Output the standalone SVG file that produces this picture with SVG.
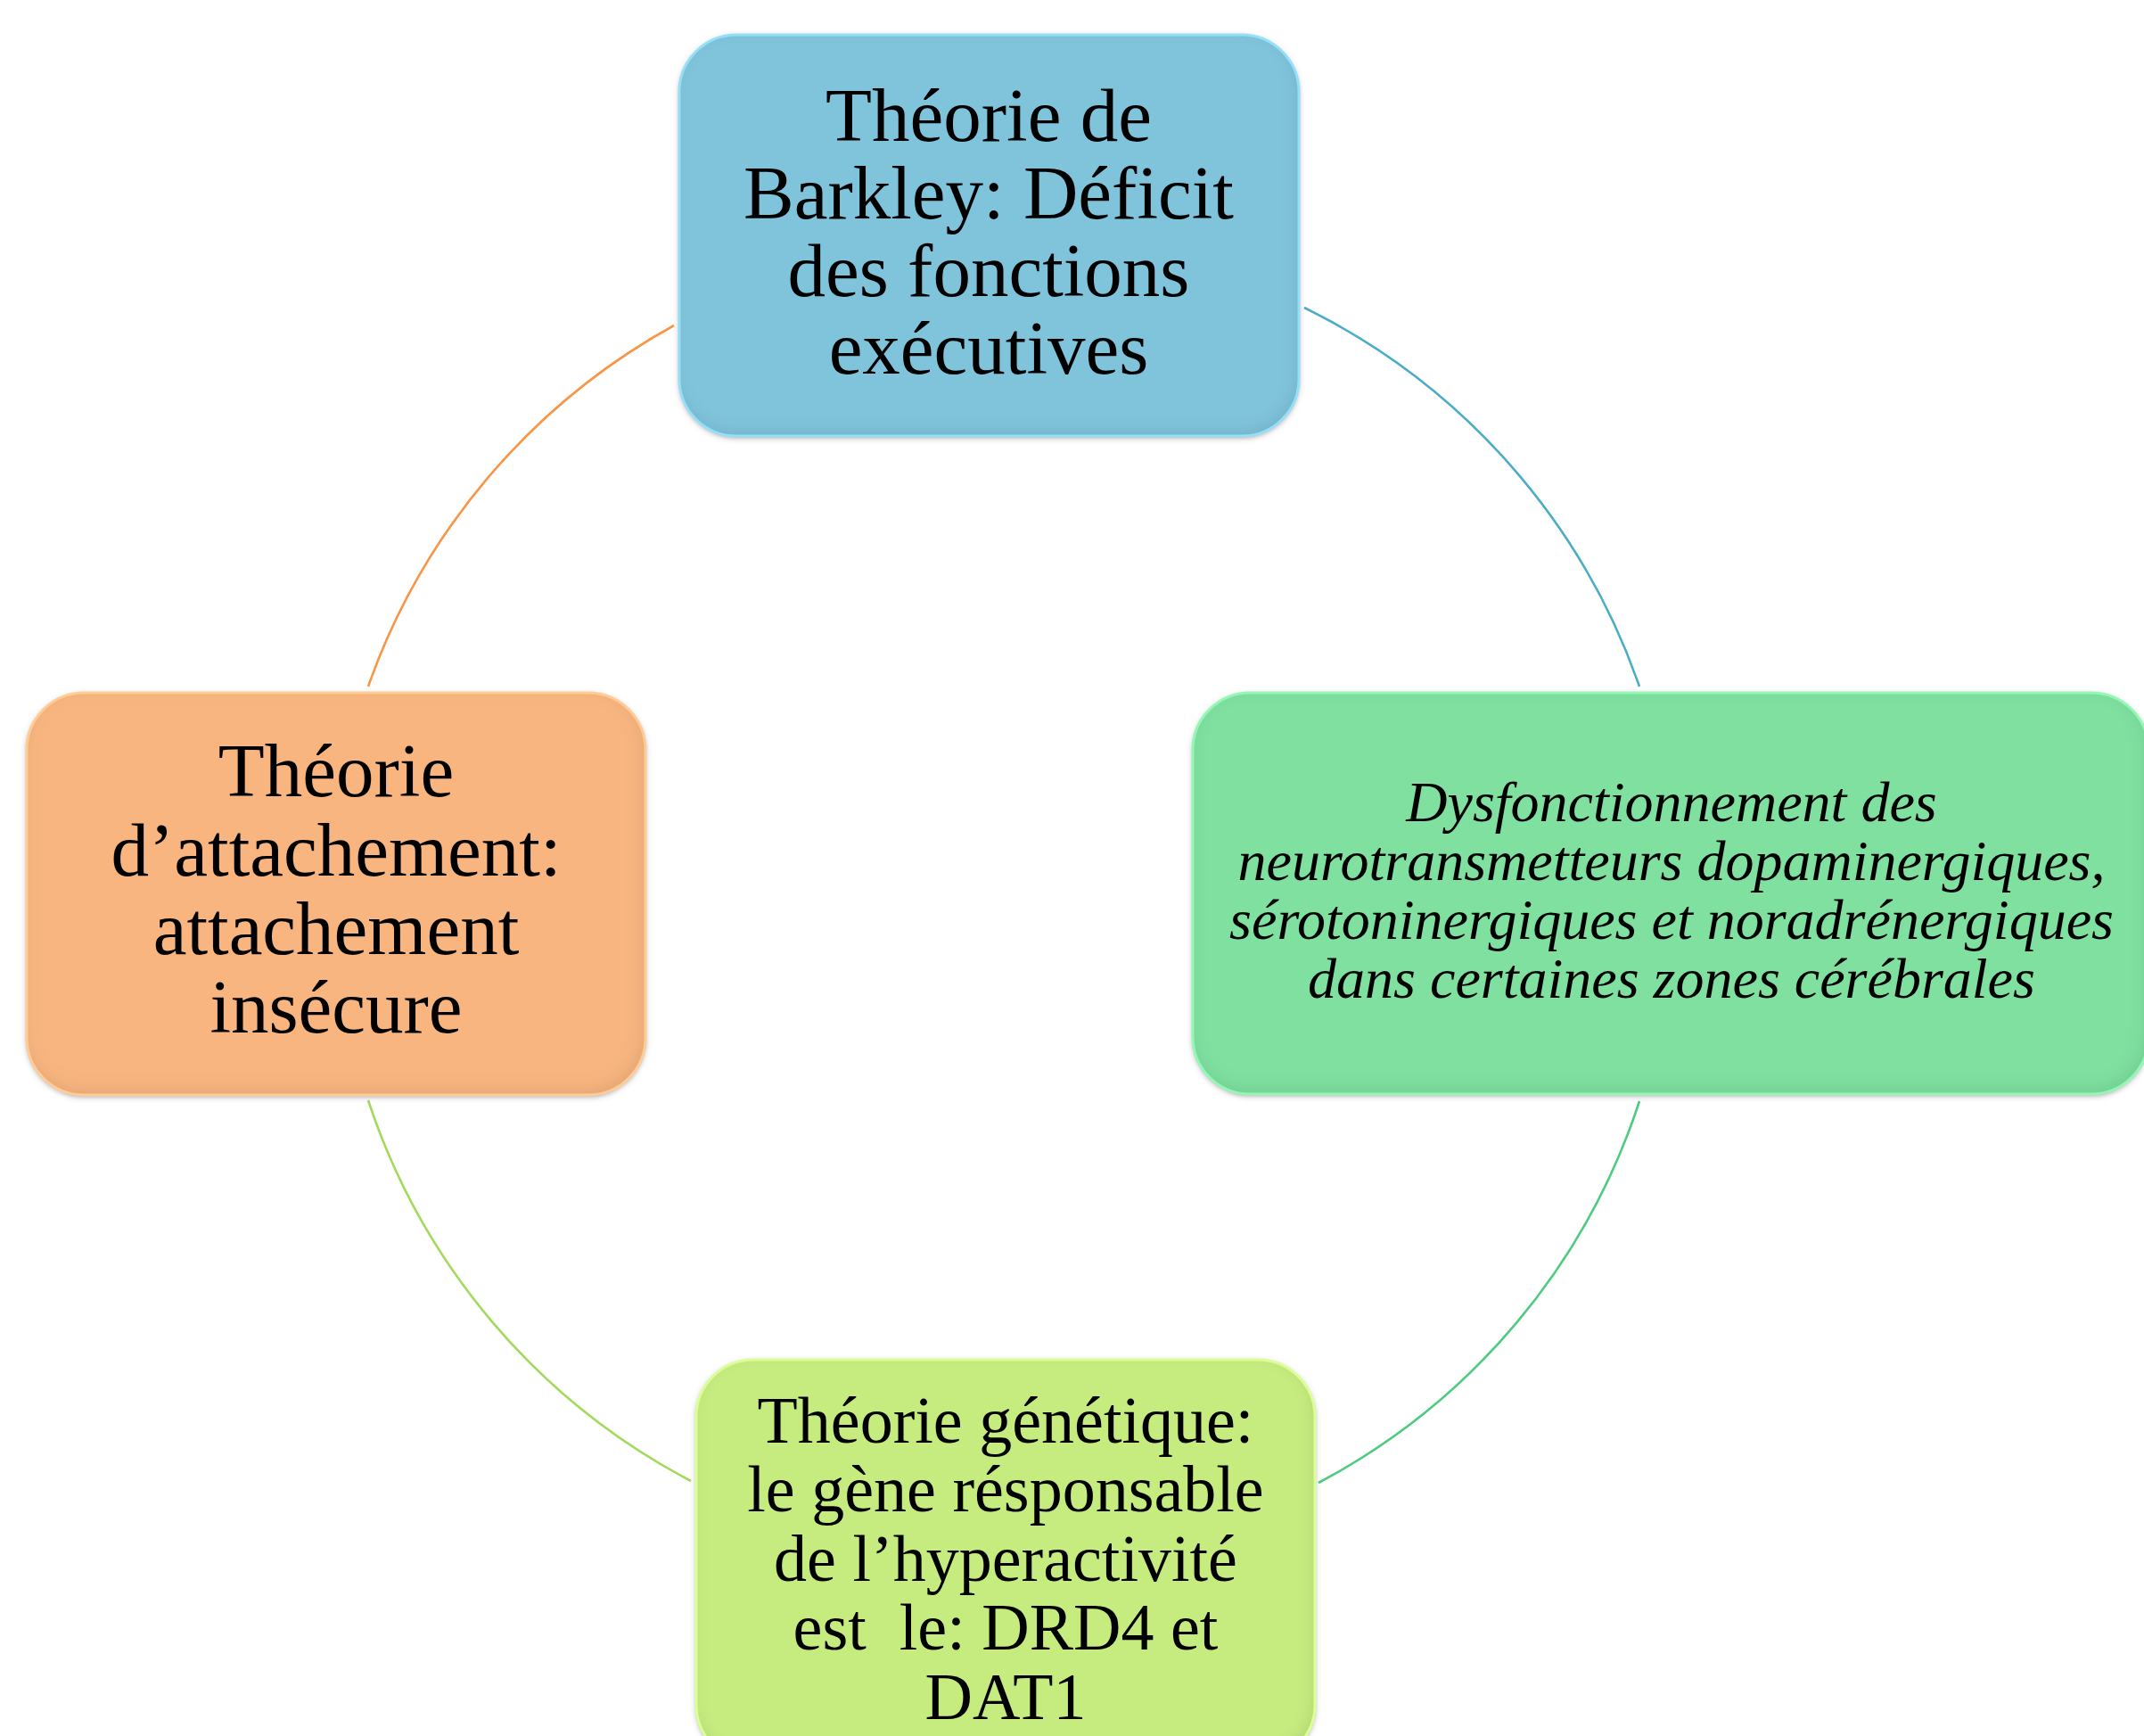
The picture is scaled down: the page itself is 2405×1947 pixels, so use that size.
<svg xmlns="http://www.w3.org/2000/svg" width="2405" height="1947" viewBox="0 0 2405 1947">
<style>
.t{font-family:"Liberation Serif","Times New Roman",serif;fill:#000;text-anchor:middle}
.big{font-size:85px}
.mid{font-size:74px}
.ital{font-size:64px;font-style:italic}
.arc{fill:none;stroke-width:2.6}
</style>
<defs>
<filter id="bev" x="-5%" y="-5%" width="110%" height="115%">
  <feGaussianBlur in="SourceAlpha" stdDeviation="9" result="blur"/>
  <feOffset in="blur" dx="-3" dy="-6" result="ob"/>
  <feComposite in="SourceAlpha" in2="ob" operator="out" result="edge"/>
  <feFlood flood-color="#000" flood-opacity="0.18"/>
  <feComposite in2="edge" operator="in" result="inner"/>
  <feGaussianBlur in="SourceAlpha" stdDeviation="3" result="sb"/>
  <feOffset in="sb" dx="0" dy="2" result="so"/>
  <feFlood flood-color="#555" flood-opacity="0.55"/>
  <feComposite in2="so" operator="in" result="shadow"/>
  <feMerge><feMergeNode in="shadow"/><feMergeNode in="SourceGraphic"/><feMergeNode in="inner"/></feMerge>
</filter>
</defs>
<rect width="2405" height="1947" fill="#fff"/>
<g id="connectors">
  <path class="arc" stroke="#F79646" d="M 756 365 A 745 745 0 0 0 413 770"/>
  <path class="arc" stroke="#4BACC6" d="M 1463 345 A 745 745 0 0 1 1839 770"/>
  <path class="arc" stroke="#4FCB80" d="M 1839 1235 A 745 745 0 0 1 1479 1663"/>
  <path class="arc" stroke="#A2DA5C" d="M 413 1234 A 745 745 0 0 0 775 1661"/>
</g>
<g id="node-barkley">
  <rect x="762" y="39" width="695" height="450" rx="64" fill="#80C4DC" filter="url(#bev)"/>
  <rect x="762" y="39" width="695" height="450" rx="64" fill="none" stroke="#95E0F8" stroke-width="3"/>
  <text class="t big" x="1109" y="158">Théorie de</text>
  <text class="t big" x="1109" y="245">Barkley: Déficit</text>
  <text class="t big" x="1109" y="332">des fonctions</text>
  <text class="t big" x="1109" y="419">exécutives</text>
</g>
<g id="node-neuro">
  <rect x="1338" y="777" width="1072" height="450" rx="64" fill="#7FE0A0" filter="url(#bev)"/>
  <rect x="1338" y="777" width="1072" height="450" rx="64" fill="none" stroke="#93F8B6" stroke-width="3"/>
  <text class="t ital" x="1875" y="921">Dysfonctionnement des</text>
  <text class="t ital" x="1875" y="987">neurotransmetteurs dopaminergiques,</text>
  <text class="t ital" x="1875" y="1053">sérotoninergiques et noradrénergiques</text>
  <text class="t ital" x="1875" y="1119">dans certaines zones cérébrales</text>
</g>
<g id="node-genetique">
  <rect x="781" y="1525" width="694" height="451" rx="64" fill="#C6EC80" filter="url(#bev)"/>
  <rect x="781" y="1525" width="694" height="451" rx="64" fill="none" stroke="#DCFF95" stroke-width="3"/>
  <text class="t mid" x="1128" y="1618">Théorie génétique:</text>
  <text class="t mid" x="1128" y="1695">le gène résponsable</text>
  <text class="t mid" x="1128" y="1773">de l’hyperactivité</text>
  <text class="t mid" x="1128" y="1850" xml:space="preserve">est  le: DRD4 et</text>
  <text class="t mid" x="1128" y="1928">DAT1</text>
</g>
<g id="node-attachement">
  <rect x="30" y="777" width="694" height="451" rx="64" fill="#F8B580" filter="url(#bev)"/>
  <rect x="30" y="777" width="694" height="451" rx="64" fill="none" stroke="#FFCC95" stroke-width="3"/>
  <text class="t big" x="377" y="893">Théorie</text>
  <text class="t big" x="377" y="982">d’attachement:</text>
  <text class="t big" x="377" y="1070">attachement</text>
  <text class="t big" x="377" y="1158">insécure</text>
</g>
</svg>
